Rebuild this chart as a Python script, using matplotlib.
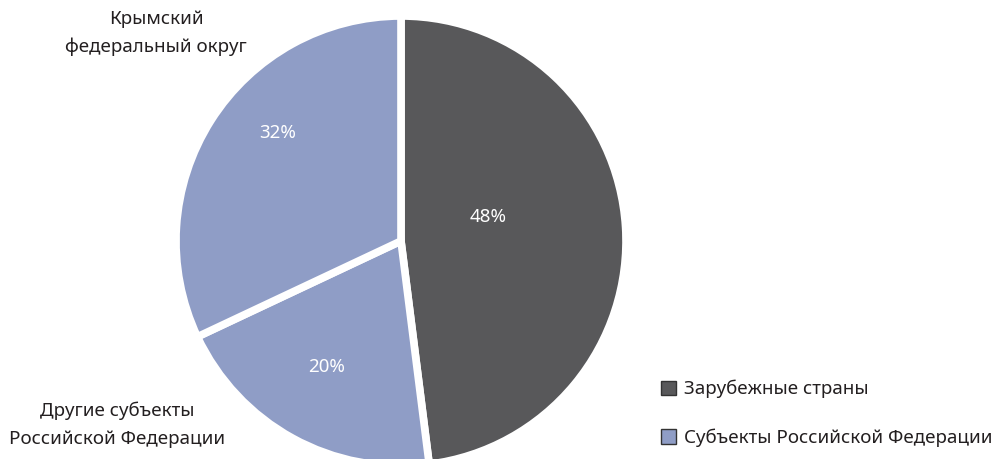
import matplotlib
matplotlib.use('Agg')
import matplotlib.pyplot as plt
from matplotlib.patches import Patch
import numpy as np

plt.rcParams['font.family'] = ['Noto Sans', 'DejaVu Sans']

# slice data (clockwise from top)
shares = [48, 20, 32]
slice_colors = ['#58585a', '#8f9dc6', '#8f9dc6']
pct_labels = ['48%', '20%', '32%']

# legend
legend_labels = ['Зарубежные страны', 'Субъекты Российской Федерации']
legend_colors = ['#58585a', '#8f9dc6']

# outer captions
caption_top = 'Крымский\nфедеральный округ'
caption_bottom = 'Другие субъекты\nРоссийской Федерации'

W, H = 1001, 459
fs = 13.5
fig = plt.figure(figsize=(W / 100, H / 100), dpi=100)
ax = fig.add_axes([0, 0, 1, 1])

# pie in pixel-like data units
cx, cy, R = 401, 218, 225
wedges, _ = ax.pie(shares, colors=slice_colors, startangle=90, counterclock=False,
                   center=(cx, cy), radius=R, frame=True,
                   wedgeprops=dict(edgecolor='white', linewidth=5.5))

# percent labels: (fraction of radius, angle in degrees)
pct_pos = [(0.40, 15.6), (0.65, -120.6), (0.73, 138.7)]
for lab, (r, a) in zip(pct_labels, pct_pos):
    t = np.deg2rad(a)
    ax.text(cx + r * R * np.cos(t), cy + r * R * np.sin(t), lab,
            color='white', fontsize=fs, ha='center', va='center')

ax.text(156, H - 33, caption_top, ha='center', va='center', fontsize=fs,
        color='#231f20', linespacing=1.68)
ax.text(117, H - 425, caption_bottom, ha='center', va='center', fontsize=fs,
        color='#231f20', linespacing=1.68)

handles = [Patch(facecolor=c, edgecolor='#333333', linewidth=1) for c in legend_colors]
leg = ax.legend(handles, legend_labels, loc='upper left',
                bbox_to_anchor=(646 / W, 1 - 365 / H), frameon=False,
                fontsize=fs, handlelength=0.8, handleheight=0.8,
                handletextpad=0.43, labelspacing=1.6, borderpad=0.3)
for t in leg.get_texts():
    t.set_color('#231f20')

ax.set_xlim(0, W)
ax.set_ylim(0, H)
ax.set_aspect('equal')
ax.axis('off')

fig.savefig('out.png', dpi=100)
